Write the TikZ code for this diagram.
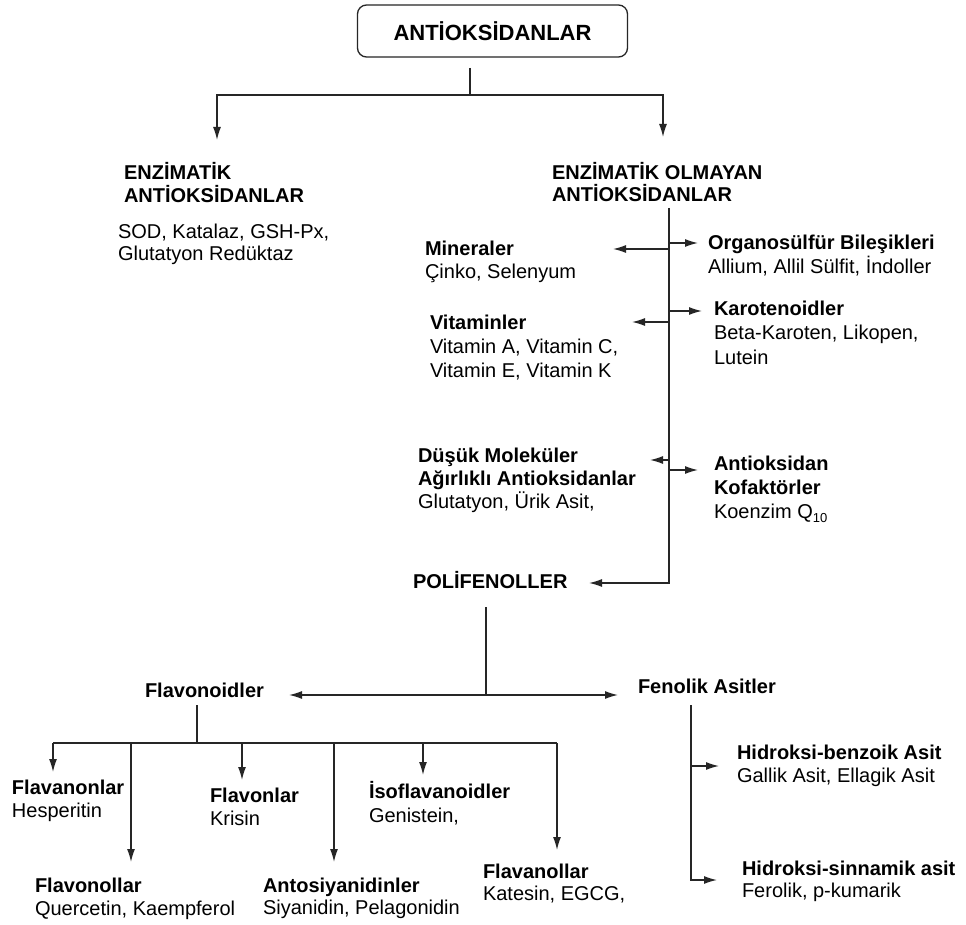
\documentclass[tikz,border=0pt]{standalone}
\usepackage{fontspec}
\setmainfont{Liberation Sans}
\usetikzlibrary{arrows.meta}
\newcommand\mylines[2]{\vtop{\baselineskip=#1pt\relax #2}}
\newcommand\boldln[1]{\hbox{\bfseries #1}}
\newcommand\plainln[1]{\hbox{#1}}
\tikzset{
  txt/.style={anchor=base west, inner sep=0pt, outer sep=0pt, font=\fontsize{20}{23}\selectfont},
  con/.style={line width=1.3pt, draw=black!85},
  arr/.style={con, -{Latex[length=13pt,width=8pt]}},
  topbox/.style={draw=black!85, line width=1.3pt, rounded corners=9pt, minimum width=270pt, minimum height=52pt, inner sep=0pt, font=\fontsize{22}{25}\selectfont\bfseries}
}
\begin{document}
\begin{tikzpicture}[x=1pt,y=-1pt]
\fill[white] (0,0) rectangle (966,925);
\useasboundingbox (0,0) rectangle (966,925);

% texts
\node[topbox] (top) at (492.5,31) {ANTİOKSİDANLAR};
\node[txt] (enzH) at (124,180) {\mylines{23}{\boldln{ENZİMATİK}\boldln{ANTİOKSİDANLAR}}};
\node[txt] (enzL) at (118,239) {\mylines{22}{\plainln{SOD, Katalaz, GSH-Px,}\plainln{Glutatyon Redüktaz}}};
\node[txt] (non) at (552,180) {\mylines{22}{\boldln{ENZİMATİK OLMAYAN}\boldln{ANTİOKSİDANLAR}}};
\node[txt] (min) at (425,256) {\mylines{23}{\boldln{Mineraler}\plainln{Çinko, Selenyum}}};
\node[txt] (vit) at (430,329) {\mylines{24}{\boldln{Vitaminler}\plainln{Vitamin A, Vitamin C,}\plainln{Vitamin E, Vitamin K}}};
\node[txt] (dus) at (418,462) {\mylines{23}{\boldln{Düşük Moleküler}\boldln{Ağırlıklı Antioksidanlar}\plainln{Glutatyon, Ürik Asit,}}};
\node[txt] (org) at (708,250) {\mylines{24}{\boldln{Organosülfür Bileşikleri}\plainln{Allium, Allil Sülfit, İndoller}}};
\node[txt] (kar) at (714,316) {\mylines{24}{\boldln{Karotenoidler}\plainln{Beta-Karoten, Likopen,}\plainln{Lutein}}};
\node[txt] (ant) at (714,470) {\mylines{24}{\boldln{Antioksidan}\boldln{Kofaktörler}\plainln{Koenzim Q\raisebox{-4pt}{\fontsize{13}{13}\selectfont 10}}}};
\node[txt] (poli) at (413,588) {\bfseries POLİFENOLLER};
\node[txt] (flav) at (145,697) {\bfseries Flavonoidler};
\node[txt] (fen) at (638,693) {\bfseries Fenolik Asitler};
\node[txt] (fnon) at (12,794) {\mylines{23}{\boldln{Flavanonlar}\plainln{Hesperitin}}};
\node[txt] (fnol) at (35,892) {\mylines{23}{\boldln{Flavonollar}\plainln{Quercetin, Kaempferol}}};
\node[txt] (flvn) at (210,802) {\mylines{23}{\boldln{Flavonlar}\plainln{Krisin}}};
\node[txt] (anto) at (263,892) {\mylines{22}{\boldln{Antosiyanidinler}\plainln{Siyanidin, Pelagonidin}}};
\node[txt] (iso) at (369,798) {\mylines{24}{\boldln{İsoflavanoidler}\plainln{Genistein,}}};
\node[txt] (fnll) at (483,878) {\mylines{22}{\boldln{Flavanollar}\plainln{Katesin, EGCG,}}};
\node[txt] (hb) at (737,759) {\mylines{23}{\boldln{Hidroksi-benzoik Asit}\plainln{Gallik Asit, Ellagik Asit}}};
\node[txt] (hs) at (742,875) {\mylines{22}{\boldln{Hidroksi-sinnamik asit}\plainln{Ferolik, p-kumarik}}};

% top connectors
\coordinate (s0) at (470,68);
\coordinate (j0) at (470,95);
\coordinate (aE) at (217,140);
\coordinate (aN) at (663,137);
\draw[con] (s0) -- (j0);
\draw[arr] (j0) -| (aE);
\draw[arr] (j0) -| (aN);

% trunk
\coordinate (tr0) at (669,208);
\coordinate (aP) at (589,583);
\draw[arr] (tr0) |- (aP);
\coordinate (aOrg) at (698,243);
\coordinate (aMin) at (613,249);
\coordinate (aKar) at (702,311);
\coordinate (aVit) at (632,322);
\coordinate (aDus) at (650,460);
\coordinate (aAnt) at (698,470);
\draw[arr] (tr0 |- aOrg) -- (aOrg);
\draw[arr] (tr0 |- aMin) -- (aMin);
\draw[arr] (tr0 |- aKar) -- (aKar);
\draw[arr] (tr0 |- aVit) -- (aVit);
\draw[arr] (tr0 |- aDus) -- (aDus);
\draw[arr] (tr0 |- aAnt) -- (aAnt);

% polifenoller
\coordinate (p0) at (486,607);
\coordinate (p1) at (486,695);
\coordinate (aFl) at (289,695);
\coordinate (aFe) at (618,695);
\draw[con] (p0) -- (p1);
\draw[arr] (p1) -- (aFl);
\draw[arr] (p1) -- (aFe);

% flavonoidler
\coordinate (f0) at (197,705);
\coordinate (f1) at (197,743);
\coordinate (hL) at (53,743);
\coordinate (hR) at (557,743);
\draw[con] (f0) -- (f1);
\draw[con] (hL) -- (hR);
\coordinate (a1) at (53,772);
\coordinate (a2) at (131,862);
\coordinate (a3) at (242,780);
\coordinate (a4) at (334,862);
\coordinate (a5) at (423,775);
\coordinate (a6) at (557,850);
\draw[arr] (a1 |- hL) -- (a1);
\draw[arr] (a2 |- hL) -- (a2);
\draw[arr] (a3 |- hL) -- (a3);
\draw[arr] (a4 |- hL) -- (a4);
\draw[arr] (a5 |- hL) -- (a5);
\draw[arr] (a6 |- hL) -- (a6);

% fenolik asitler
\coordinate (g0) at (691,705);
\coordinate (aHB) at (719,766);
\coordinate (aHS) at (717,880);
\draw[arr] (g0) |- (aHS);
\draw[arr] (g0 |- aHB) -- (aHB);
\end{tikzpicture}
\end{document}
